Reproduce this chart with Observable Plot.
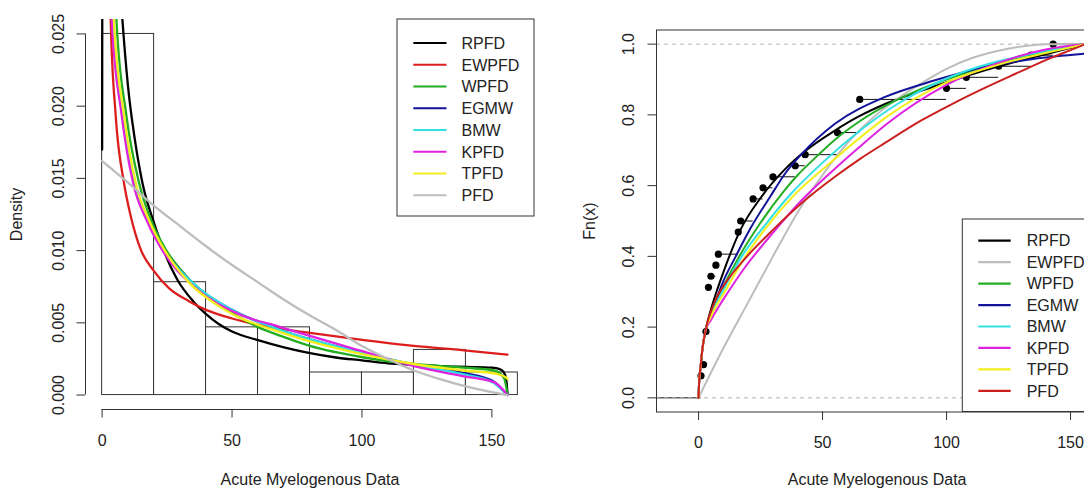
<!DOCTYPE html>
<html><head><meta charset="utf-8">
<script src="https://cdn.jsdelivr.net/npm/d3@7"></script>
<script src="https://cdn.jsdelivr.net/npm/@observablehq/plot@0.6"></script>
<style>
html,body{margin:0;padding:0;background:#fff;overflow:hidden;}
#wrap{position:relative;width:1084px;height:488px;overflow:hidden;background:#fff;}
#left{position:absolute;left:0;top:0;width:540px;height:488px;}
#right{position:absolute;left:540px;top:0;width:570px;height:488px;}
</style></head><body>
<div id="wrap"><div id="left"></div><div id="right"></div></div>
<script>
const FONT = '"Liberation Sans", Arial, Helvetica, sans-serif';

// ---------- categories / labels ----------
const models = ["RPFD","EWPFD","WPFD","EGMW","BMW","KPFD","TPFD","PFD"];
const pdfColors = ["#000000","#dc1e1e","#23ad23","#12129a","#30e2e2","#df22df","#f3ee1c","#bdbdbd"];
const cdfColors = ["#000000","#bdbdbd","#23ad23","#12129a","#30e2e2","#df22df","#f3ee1c","#cc1f1f"];
const xTitle = "Acute Myelogenous Data";
const yTitleL = "Density";
const yTitleR = "Fn(x)";

// ---------- histogram ----------
const histBreaks = [0,20,40,60,80,100,120,140,160];
const histDensity = [0.025,0.0078125,0.0046875,0.0046875,0.0015625,0.0015625,0.003125,0.0015625];

// ---------- fitted densities (left panel) ----------
const pdfRPFD_x = [0,1.5,4,6,7.8,10,12.5,15.5,20,24.4,28.9,35,40,45,50,60,70,80,90,100,110,120,130,140,150,153,154.5,155.5,156];
const pdfRPFD_y = [0.017,0.2,0.042,0.031,0.026,0.0213,0.0178,0.0147,0.0119,0.0097,0.0080,0.0065,0.0056,0.0049,0.0044,0.0038,0.0033,0.0029,0.0026,0.0024,0.0022,0.0021,0.0020,0.00195,0.0019,0.0018,0.0016,0.0011,0.0001];
const pdfEWPFD_x = [2,3.3,5.2,8.4,11,14.8,19.9,25.7,33.4,40,50,59,68.7,80,100.8,120,139.3,156];
const pdfEWPFD_y = [0.045,0.026,0.0194,0.0147,0.0124,0.0101,0.0086,0.0074,0.0065,0.0059,0.0053,0.0049,0.0046,0.0043,0.0038,0.0034,0.0031,0.0028];
const pdfWPFD_x = [3,5.5,9.3,14.2,19.1,24.4,32.1,42.4,52.7,60,68.7,80,100.8,120,139.3,150.8,154.6,156];
const pdfWPFD_y = [0.04,0.026,0.0194,0.0147,0.0120,0.0101,0.0083,0.0066,0.0054,0.0047,0.0041,0.0034,0.0026,0.00215,0.0019,0.0017,0.0012,0.0001];
const pdfEGMW_x = [2.3,4.1,8.1,12.6,18.1,23.6,34,50,68.7,100.8,120,140,150,156];
const pdfEGMW_y = [0.045,0.026,0.0194,0.0147,0.0120,0.0101,0.0079,0.0059,0.0045,0.0029,0.0021,0.0015,0.0010,0.0];
const pdfBMW_x = [2.2,4,8,12.5,18,23.5,34,50,68.7,100.8,120,140,150,156];
const pdfBMW_y = [0.045,0.026,0.0194,0.0147,0.0120,0.0101,0.0079,0.0059,0.0045,0.0029,0.0021,0.0014,0.0009,0.0];
const pdfKPFD_x = [2,3.7,7.5,11.9,17.4,22.9,36,52.7,68.7,100.8,120,139.3,150.8,156];
const pdfKPFD_y = [0.045,0.026,0.0194,0.0147,0.0120,0.0101,0.0074,0.0056,0.0047,0.0030,0.0020,0.0013,0.0009,0.0];
const pdfTPFD_x = [2.5,4.5,8.4,12.9,18.3,23.8,33.4,46.3,69.4,100.8,120,139.3,152,155.7,156];
const pdfTPFD_y = [0.045,0.026,0.0194,0.0147,0.0120,0.0101,0.0078,0.0060,0.0043,0.0028,0.00215,0.0017,0.00146,0.0012,0.0011];
const pdfPFD_x = [0,10,20,30,40,50,60,70,80,90,100,110,120,130,140,150,156];
const pdfPFD_y = [0.0162,0.0147,0.0131,0.0117,0.0103,0.0090,0.0078,0.0066,0.0055,0.0045,0.0034,0.0025,0.0017,0.0011,0.0006,0.0002,0.0];

// ---------- empirical CDF (right panel) ----------
const ecdfX = [1,2,3,4,5,7,8,16,17,22,26,30,39,43,56,65,100,108,121,134,143];
const ecdfF = [0.0625,0.09375,0.1875,0.3125,0.34375,0.375,0.40625,0.46875,0.5,0.5625,0.59375,0.625,0.65625,0.6875,0.75,0.84375,0.875,0.90625,0.9375,0.96875,1.0];

// ---------- fitted CDFs (right panel) ----------
const cdfRPFD_x = [0,0.2,0.8,1.6,2.8,4.8,7,10,16.9,25,34.4,42.5,54.8,65,75,99.2,120.7,142,156];
const cdfRPFD_y = [0,0.04,0.085,0.14,0.19,0.245,0.295,0.355,0.475,0.565,0.643,0.695,0.755,0.797,0.83,0.89,0.937,0.975,1];
const cdfEWPFD_x = [0,10,20,30,40,50,60,70,80,90,100,110,120,130,140,156];
const cdfEWPFD_y = [0,0.14,0.27,0.40,0.525,0.63,0.72,0.79,0.845,0.89,0.93,0.96,0.98,0.993,1,1];
const cdfWPFD_x = [0,0.2,0.8,1.6,2.8,5,10,16,25,34.5,40,46.5,55,65,76,88,100,121,140,156];
const cdfWPFD_y = [0,0.04,0.085,0.14,0.19,0.24,0.315,0.395,0.495,0.585,0.63,0.675,0.73,0.782,0.828,0.868,0.90,0.948,0.98,1];
const cdfEGMW_x = [0,0.2,0.8,1.6,2.8,5,10,15,21,29,35,41,55,75,95,115,135,156];
const cdfEGMW_y = [0,0.04,0.085,0.14,0.19,0.235,0.33,0.40,0.48,0.57,0.635,0.685,0.775,0.85,0.897,0.935,0.958,0.973];
const cdfBMW_x = [0,0.2,0.8,1.6,2.8,5,10,17,27,37,50,65,80,100,120,140,156];
const cdfBMW_y = [0,0.04,0.085,0.14,0.19,0.235,0.305,0.395,0.49,0.575,0.665,0.755,0.83,0.903,0.95,0.98,1];
const cdfKPFD_x = [0,0.2,0.8,1.6,2.8,5,12,18.3,30.4,41.1,53,65,76,100,120,140,156];
const cdfKPFD_y = [0,0.04,0.085,0.14,0.19,0.22,0.30,0.365,0.47,0.555,0.635,0.71,0.775,0.885,0.945,0.985,1];
const cdfTPFD_x = [0,0.2,0.8,1.6,2.8,5,11,18,27.7,38.4,51.9,65,76,100,120,140,156];
const cdfTPFD_y = [0,0.04,0.085,0.14,0.19,0.23,0.305,0.39,0.485,0.572,0.657,0.735,0.795,0.892,0.94,0.975,1];
const cdfPFD_x = [0,0.2,0.8,1.6,2.8,6.2,11.6,18.3,30,44,55,65,75,90,102,115,129,140,150,156];
const cdfPFD_y = [0,0.04,0.087,0.14,0.19,0.266,0.332,0.39,0.475,0.565,0.625,0.675,0.72,0.785,0.83,0.875,0.92,0.955,0.983,1];

// ---------- ticks ----------
const xTicksL = [0,50,100,150];
const yTicksL = [0,0.005,0.010,0.015,0.020,0.025];
const xTicksR = [0,50,100,150];
const yTicksR = [0,0.2,0.4,0.6,0.8,1.0];

// ================= build =================
const toPts = (xs, ys) => xs.map((x, i) => ({x, y: ys[i]}));
const pdfCurves = [[pdfRPFD_x,pdfRPFD_y],[pdfEWPFD_x,pdfEWPFD_y],[pdfWPFD_x,pdfWPFD_y],[pdfEGMW_x,pdfEGMW_y],
                   [pdfBMW_x,pdfBMW_y],[pdfKPFD_x,pdfKPFD_y],[pdfTPFD_x,pdfTPFD_y],[pdfPFD_x,pdfPFD_y]];
const cdfCurves = [[cdfRPFD_x,cdfRPFD_y],[cdfEWPFD_x,cdfEWPFD_y],[cdfWPFD_x,cdfWPFD_y],[cdfEGMW_x,cdfEGMW_y],
                   [cdfBMW_x,cdfBMW_y],[cdfKPFD_x,cdfKPFD_y],[cdfTPFD_x,cdfTPFD_y],[cdfPFD_x,cdfPFD_y]];
const AX = "#333";
const TXT = "#222";

// ---- left panel ----
const xDomL = [-6.4, 166.4], yDomL = [-0.001, 0.026];
const bins = histDensity.map((d, i) => ({x1: histBreaks[i], x2: histBreaks[i + 1], d}));
const left = Plot.plot({
  width: 540, height: 488,
  marginLeft: 85, marginRight: 6, marginTop: 19, marginBottom: 79,
  style: {fontFamily: FONT, fontSize: "16px", color: TXT, background: "white", maxWidth: "none"},
  x: {domain: xDomL, axis: null},
  y: {domain: yDomL, axis: null},
  marks: [
    Plot.rectY(bins, {x1: "x1", x2: "x2", y: "d", fill: "white", stroke: AX, strokeWidth: 1}),
    ...pdfCurves.map(([xs, ys], k) => Plot.line(toPts(xs, ys), {x: "x", y: "y", stroke: pdfColors[k], strokeWidth: 2.3, curve: "monotone-x", clip: true})),
    Plot.ruleY([yDomL[0]], {x1: xTicksL[0], x2: xTicksL[xTicksL.length - 1], stroke: AX}),
    Plot.ruleX([xDomL[0]], {y1: yTicksL[0], y2: yTicksL[yTicksL.length - 1], stroke: AX}),
    Plot.axisX({ticks: xTicksL, tickSize: 8.5, tickFormat: () => "", label: null, stroke: AX}),
    Plot.axisY({ticks: yTicksL, tickSize: 8.5, tickFormat: () => "", label: null, stroke: AX}),
    Plot.text(xTicksL, {x: d => d, text: d => String(d), frameAnchor: "bottom", dy: 36, lineAnchor: "bottom", fill: TXT}),
    Plot.text(yTicksL, {y: d => d, text: d => d3.format(".3f")(d), frameAnchor: "left", dx: -22, rotate: -90, textAnchor: "middle", lineAnchor: "bottom", fill: TXT}),
    Plot.text([xTitle], {text: d => d, frameAnchor: "bottom", dy: 75, lineAnchor: "bottom", fill: TXT}),
    Plot.text([yTitleL], {text: d => d, frameAnchor: "left", dx: -64, rotate: -90, textAnchor: "middle", lineAnchor: "bottom", fill: TXT})
  ]
});
document.getElementById("left").appendChild(left);

// ---- right panel ----
const xDomR = [-16.95, 160.95], yDomR = [-0.04, 1.04];
const steps = [{x1: xDomR[0] - 20, x2: ecdfX[0], y: 0}]
  .concat(ecdfX.map((k, i) => ({x1: k, x2: i + 1 < ecdfX.length ? ecdfX[i + 1] : xDomR[1] + 20, y: ecdfF[i]})));
const right = Plot.plot({
  width: 570, height: 488,
  marginLeft: 116, marginRight: 12.8, marginTop: 29.5, marginBottom: 76.5,
  style: {fontFamily: FONT, fontSize: "16px", color: TXT, background: "white", maxWidth: "none"},
  x: {domain: xDomR, axis: null},
  y: {domain: yDomR, axis: null},
  marks: [
    Plot.ruleY(steps, {y: "y", x1: "x1", x2: "x2", stroke: "#111", strokeWidth: 1, clip: true}),
    Plot.ruleY([0, 1], {stroke: "#b5b5b5", strokeDasharray: "4,4", strokeWidth: 1}),
    Plot.dot(toPts(ecdfX, ecdfF), {x: "x", y: "y", r: 3.6, fill: "#000", stroke: "none"}),
    ...cdfCurves.map(([xs, ys], k) => Plot.line(toPts(xs, ys), {x: "x", y: "y", stroke: cdfColors[k], strokeWidth: 2, curve: "monotone-x", clip: true})),
    Plot.frame({stroke: AX}),
    Plot.axisX({ticks: xTicksR, tickSize: 8.5, tickFormat: () => "", label: null, stroke: AX}),
    Plot.axisY({ticks: yTicksR, tickSize: 8.5, tickFormat: () => "", label: null, stroke: AX}),
    Plot.text(xTicksR, {x: d => d, text: d => String(d), frameAnchor: "bottom", dy: 35.5, lineAnchor: "bottom", fill: TXT}),
    Plot.text(yTicksR, {y: d => d, text: d => d3.format(".1f")(d), frameAnchor: "left", dx: -23, rotate: -90, textAnchor: "middle", lineAnchor: "bottom", fill: TXT}),
    Plot.text([xTitle], {text: d => d, frameAnchor: "bottom", dy: 72.5, lineAnchor: "bottom", fill: TXT}),
    Plot.text([yTitleR], {text: d => d, frameAnchor: "left", dx: -62, rotate: -90, textAnchor: "middle", lineAnchor: "bottom", fill: TXT})
  ]
});
document.getElementById("right").appendChild(right);

// ---- legends (R-style boxed legends) ----
function legend(svg, box, lineX0, lineX1, textX, row0, rowStep, colors) {
  const g = d3.select(svg).append("g")
    .attr("font-family", FONT).attr("font-size", 16).attr("text-anchor", "start");
  g.append("rect").attr("x", box[0]).attr("y", box[1]).attr("width", box[2]).attr("height", box[3])
    .attr("fill", "white").attr("stroke", AX).attr("stroke-width", 1);
  models.forEach((m, i) => {
    const y = row0 + i * rowStep;
    g.append("line").attr("x1", lineX0).attr("x2", lineX1).attr("y1", y).attr("y2", y)
      .attr("stroke", colors[i]).attr("stroke-width", 2.2);
    g.append("text").attr("x", textX).attr("y", y).attr("dy", "0.36em")
      .attr("text-anchor", "start").attr("fill", TXT).text(m);
  });
}
legend(left, [397, 19, 137, 197], 413.3, 446.5, 461.5, 43, 21.75, pdfColors);
legend(right, [422.3, 219, 134.9, 192.5], 438.3, 470.7, 486.7, 240.7, 21.45, cdfColors);
</script></body></html>
